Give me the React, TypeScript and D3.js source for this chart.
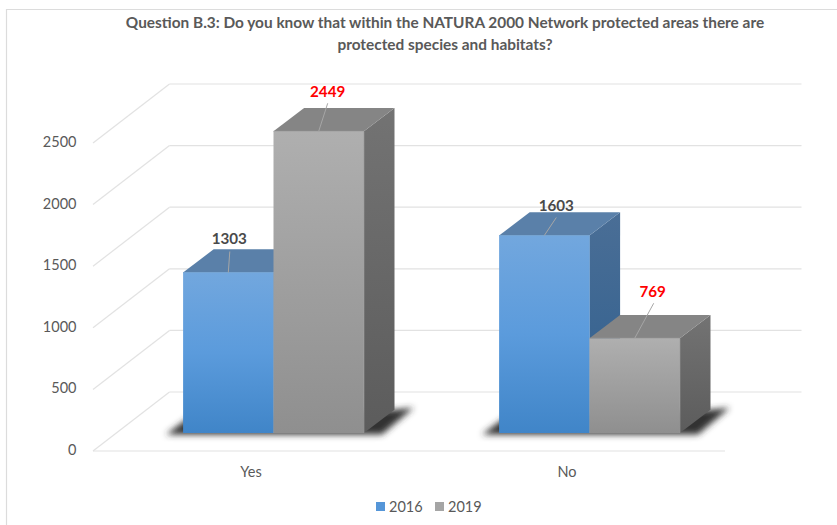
import React from "react";
import * as d3 from "d3";

const categories = ["Yes", "No"];
const seriesNames = ["2016", "2019"];
const values2016 = [1303, 1603];
const values2019 = [2449, 769];
const yTicks = [0, 500, 1000, 1500, 2000, 2500];
const titleLines = [
  "Question B.3: Do you know that within the NATURA 2000 Network protected areas there are",
  "protected species and habitats?",
];

const WIDTH = 837;
const HEIGHT = 525;
const FONT = "Lato, 'Open Sans', sans-serif";

// Oblique projection of the 3D box: floor depth and bar depth.
const FLOOR_DX = 76.5;
const FLOOR_DY = -59;
const BAR_PLANE_DX = 22.5;
const BAR_PLANE_DY = -18;
const BAR_DX = 30.6;
const BAR_DY = -23.2;

const yScale = d3.scaleLinear().domain([0, 2500]).range([451, 143]);
const xCategory = d3.scaleBand<string>().domain(categories).range([93, 725]);
const BAR_WIDTH = 90.4;
const xSeries = d3
  .scaleBand<string>()
  .domain(seriesNames)
  .range([xCategory.bandwidth() / 2 - BAR_WIDTH, xCategory.bandwidth() / 2 + BAR_WIDTH]);

const palettes = [
  { front: "url(#blueFront)", top: "#5a80a9", side: "url(#blueSide)", edge: "#6f9fd0", label: "#4a4a4a" },
  { front: "url(#greyFront)", top: "#858585", side: "url(#greySide)", edge: "#9a9a9a", label: "#ff0000" },
];

// Leader line end and label anchor, relative to the middle of each bar's top edge.
const leaders = [
  [
    { dx: 1.5, dy: -21, lx: 1, ly: -28 },
    { dx: 9, dy: -28, lx: 9, ly: -34 },
  ],
  [
    { dx: 12, dy: -18, lx: 12, ly: -25 },
    { dx: 19, dy: -35, lx: 18, ly: -41 },
  ],
];

const polyPoints = (pts: [number, number][]) => pts.map((p) => p.join(",")).join(" ");

function Gridlines() {
  const [left, right] = xCategory.range();
  return (
    <g stroke="#e2e2e2" strokeWidth={1.2} fill="none">
      {yTicks.map((t) => {
        const y = yScale(t);
        return (
          <g key={t}>
            <line x1={left} y1={y} x2={left + FLOOR_DX} y2={y + FLOOR_DY} />
            <line x1={left + FLOOR_DX} y1={y + FLOOR_DY} x2={right + FLOOR_DX} y2={y + FLOOR_DY} />
          </g>
        );
      })}
      <line x1={left} y1={yScale(0)} x2={right} y2={yScale(0)} />
    </g>
  );
}

function Bar({ x, value, series }: { x: number; value: number; series: number }) {
  const c = palettes[series];
  const x0 = x;
  const x1 = x + BAR_WIDTH;
  const yTop = yScale(value) + BAR_PLANE_DY;
  const yBase = yScale(0) + BAR_PLANE_DY;
  return (
    <g>
      <polygon
        points={polyPoints([[x1, yTop], [x1 + BAR_DX, yTop + BAR_DY], [x1 + BAR_DX, yBase + BAR_DY], [x1, yBase]])}
        fill={c.side}
      />
      <polygon
        points={polyPoints([[x0, yTop], [x0 + BAR_DX, yTop + BAR_DY], [x1 + BAR_DX, yTop + BAR_DY], [x1, yTop]])}
        fill={c.top}
      />
      <rect x={x0} y={yTop} width={BAR_WIDTH} height={yBase - yTop} fill={c.front} />
      <path d={`M${x0},${yTop}H${x1}V${yBase}`} fill="none" stroke={c.edge} strokeWidth={0.8} />
    </g>
  );
}

export default function App() {
  const groups = categories.map((cat, i) => ({
    cat,
    origin: (xCategory(cat) as number) + BAR_PLANE_DX,
    vals: [values2016[i], values2019[i]],
  }));
  const barLeft = (origin: number, s: number) => origin + (xSeries(seriesNames[s]) as number);

  return (
    <svg
      width={WIDTH}
      height={HEIGHT}
      viewBox={`0 0 ${WIDTH} ${HEIGHT}`}
      style={{ position: "absolute", left: 0, top: 0, background: "#fff", fontFamily: FONT }}
    >
      <defs>
        <linearGradient id="blueFront" x1="0" y1="0" x2="0" y2="1">
          <stop offset="0" stopColor="#72a7de" />
          <stop offset="0.5" stopColor="#5b9bdc" />
          <stop offset="1" stopColor="#4085c8" />
        </linearGradient>
        <linearGradient id="greyFront" x1="0" y1="0" x2="0" y2="1">
          <stop offset="0" stopColor="#afafaf" />
          <stop offset="1" stopColor="#8f8f8f" />
        </linearGradient>
        <linearGradient id="blueSide" x1="0" y1="0" x2="0" y2="1">
          <stop offset="0" stopColor="#4a6e96" />
          <stop offset="1" stopColor="#2f5f8e" />
        </linearGradient>
        <linearGradient id="greySide" x1="0" y1="0" x2="0" y2="1">
          <stop offset="0" stopColor="#737373" />
          <stop offset="1" stopColor="#5c5c5c" />
        </linearGradient>
        <filter id="baseShadow" x="-20%" y="-50%" width="140%" height="200%">
          <feGaussianBlur stdDeviation="3" />
        </filter>
      </defs>

      {/* Chart frame */}
      <path d={`M${WIDTH},9.5H6.5V${HEIGHT}`} fill="none" stroke="#dcdcdc" strokeWidth={1.2} />

      <g textAnchor="middle" fontWeight={700} fontSize={15.4} fill="#595959">
        {titleLines.map((line, i) => (
          <text key={line} x={445} y={28 + i * 22}>
            {line}
          </text>
        ))}
      </g>

      <Gridlines />

      <g textAnchor="end" fontSize={14.5} fill="#595959">
        {yTicks.map((t) => (
          <text key={t} x={76.5} y={yScale(t) + 4}>
            {t}
          </text>
        ))}
      </g>

      {/* Soft contact shadows under each bar pair */}
      {groups.map((g) => {
        const x0 = barLeft(g.origin, 0);
        const x1 = barLeft(g.origin, 1) + BAR_WIDTH;
        const yb = yScale(0) + BAR_PLANE_DY;
        return (
          <polygon
            key={g.cat}
            filter="url(#baseShadow)"
            fill="#333333"
            points={polyPoints([
              [x0 - 17, yb + 1.5],
              [x0 + 4, yb - 14],
              [x1 + BAR_DX, yb + BAR_DY],
              [x1 + BAR_DX + 19, yb + BAR_DY - 2],
              [x1 + 18, yb + 1.5],
            ])}
          />
        );
      })}

      {groups.map((g) =>
        g.vals.map((v, s) => <Bar key={g.cat + s} x={barLeft(g.origin, s)} value={v} series={s} />)
      )}

      {/* Leader lines and value labels */}
      {groups.map((g, ci) =>
        g.vals.map((v, s) => {
          const cx = barLeft(g.origin, s) + BAR_WIDTH / 2;
          const yTop = yScale(v) + BAR_PLANE_DY;
          const l = leaders[ci][s];
          return (
            <g key={g.cat + s + "label"}>
              <line x1={cx} y1={yTop} x2={cx + l.dx} y2={yTop + l.dy} stroke="#a6a6a6" strokeWidth={1} />
              <text
                x={cx + l.lx}
                y={yTop + l.ly}
                textAnchor="middle"
                fontSize={15.2}
                fontWeight={700}
                fill={palettes[s].label}
              >
                {v}
              </text>
            </g>
          );
        })
      )}

      <g textAnchor="middle" fontSize={14.5} fill="#595959">
        {categories.map((c) => (
          <text key={c} x={(xCategory(c) as number) + xCategory.bandwidth() / 2} y={477}>
            {c}
          </text>
        ))}
      </g>

      {/* Legend */}
      <g fontSize={14.5} fill="#595959">
        {seriesNames.map((name, i) => (
          <g key={name} transform={`translate(${376 + i * 59},502)`}>
            <rect x={0} y={0} width={9} height={9} fill={i === 0 ? "#5596d8" : "#a5a5a5"} />
            <text x={13} y={10}>
              {name}
            </text>
          </g>
        ))}
      </g>
    </svg>
  );
}
